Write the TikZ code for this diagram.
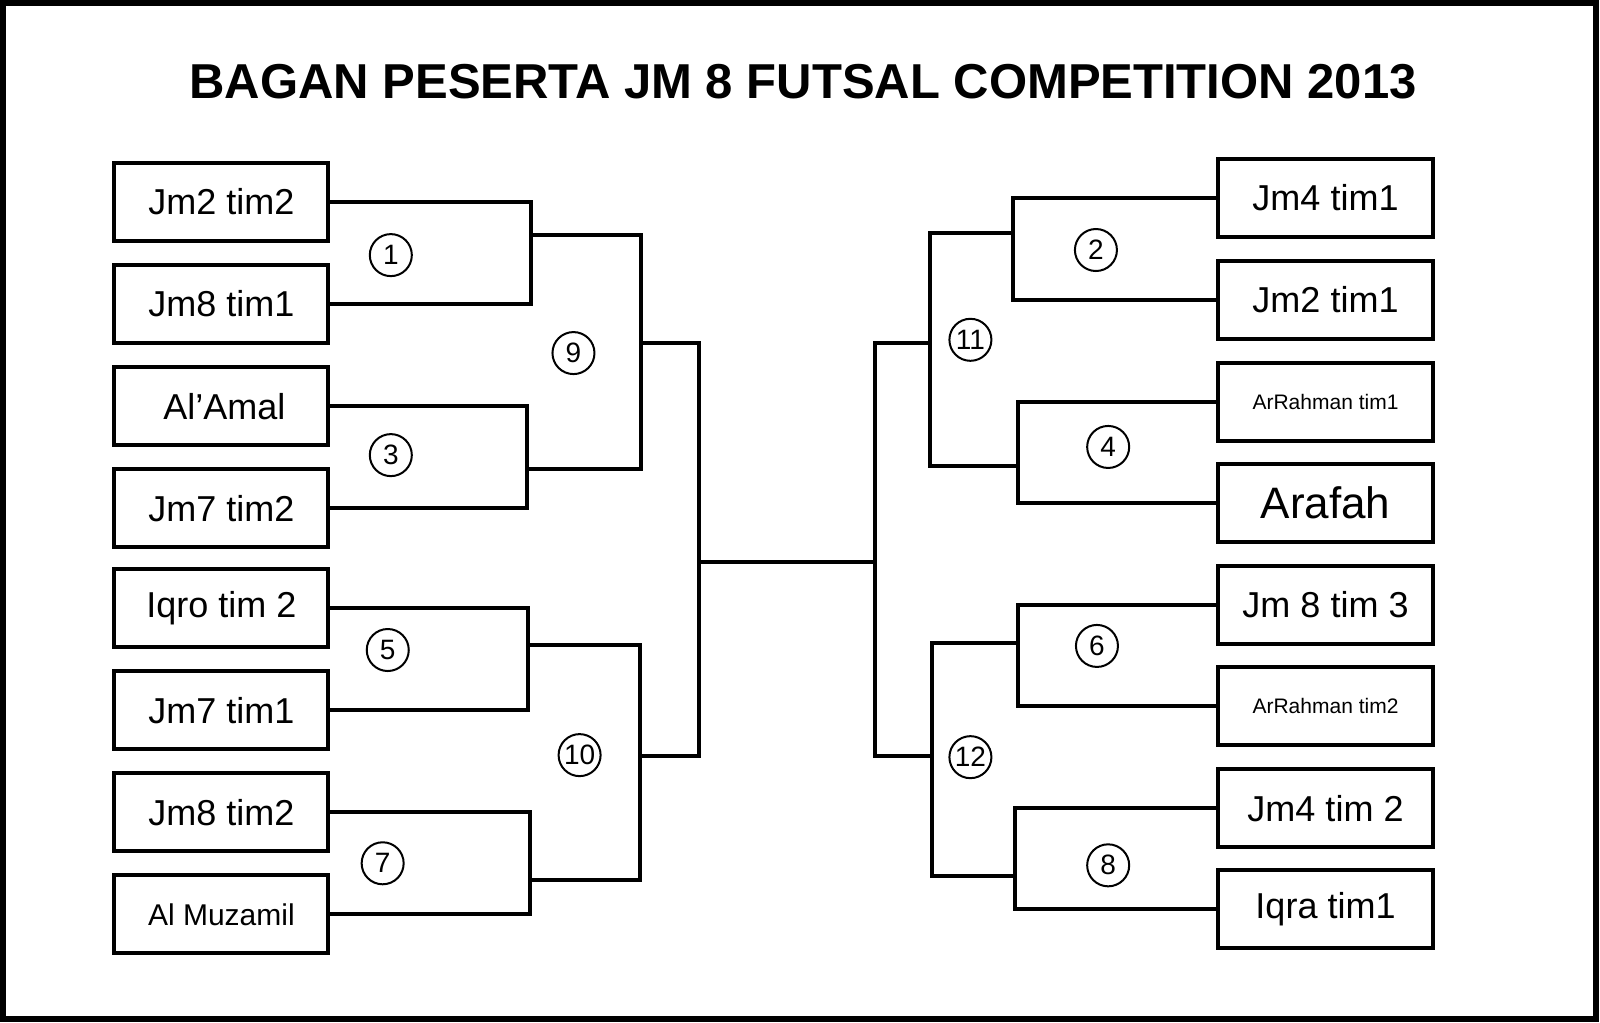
\documentclass[tikz,border=0pt]{standalone}
\usepackage{fontspec}
\setmainfont{Liberation Sans}
\begin{document}
\begin{tikzpicture}[x=0.51pt,y=-0.51pt,
  team/.style={draw,line width=2pt,minimum width=107pt,minimum height=39pt,inner sep=0pt,font=\fontsize{18}{20}\selectfont},
  num/.style={draw,circle,line width=1pt,minimum size=21pt,inner sep=0pt,font=\fontsize{14}{16}\selectfont},
  wire/.style={line width=2pt}]
\fill[white] (0,0) rectangle (1568,1002);
\draw[line width=3pt] (3,3) rectangle (1564,999);
\node[font=\fontsize{24.5}{26}\selectfont\bfseries] (title) at (787,80) {BAGAN PESERTA JM 8 FUTSAL COMPETITION 2013};
% left boxes
\node[team] (l1) at (217,198) {Jm2 tim2};
\node[team] (l2) at (217,298) {Jm8 tim1};
\node[team] (l3) at (217,398) {\,Al’Amal};
\node[team] (l4) at (217,498) {Jm7 tim2};
\node[team] (l5) at (217,596) {Iqro tim 2};
\node[team] (l6) at (217,696) {Jm7 tim1};
\node[team] (l7) at (217,796) {Jm8 tim2};
\node[team,font=\fontsize{15}{17}\selectfont] (l8) at (217,896) {Al Muzamil};
% right boxes
\node[team] (r1) at (1299,194) {Jm4 tim1};
\node[team] (r2) at (1299,294) {Jm2 tim1};
\node[team,font=\fontsize{10.5}{12}\selectfont] (r3) at (1299,394) {ArRahman tim1};
\node[team,font=\fontsize{22}{24}\selectfont] (r4) at (1299,493) {Arafah};
\node[team] (r5) at (1299,593) {Jm 8 tim 3};
\node[team,font=\fontsize{10.5}{12}\selectfont] (r6) at (1299,692) {ArRahman tim2};
\node[team] (r7) at (1299,792) {Jm4 tim 2};
\node[team] (r8) at (1299,891) {Iqra tim1};
% match points
\coordinate (m1) at (520,230); \coordinate (m3) at (516,460);
\coordinate (m5) at (517,632); \coordinate (m7) at (519,862);
\coordinate (m9) at (628,336); \coordinate (m10) at (627,741);
\coordinate (mL) at (685,551); \coordinate (mR) at (857,551);
\coordinate (m11) at (911,336); \coordinate (m12) at (913,741);
\coordinate (m2) at (993,228); \coordinate (m4) at (998,457);
\coordinate (m6) at (998,630); \coordinate (m8) at (995,858);
\draw[wire] (l1.east) -| (m1) |- (l2.east);
\draw[wire] (l3.east) -| (m3) |- (l4.east);
\draw[wire] (l5.east) -| (m5) |- (l6.east);
\draw[wire] (l7.east) -| (m7) |- (l8.east);
\draw[wire] (m1) -| (m9) |- (m3);
\draw[wire] (m5) -| (m10) |- (m7);
\draw[wire] (m9) -| (mL) |- (m10);
\draw[wire] (mL) -- (mR);
\draw[wire] (m11) -| (mR) |- (m12);
\draw[wire] (m2) -| (m11) |- (m4);
\draw[wire] (m6) -| (m12) |- (m8);
\draw[wire] (r1.west) -| (m2) |- (r2.west);
\draw[wire] (r3.west) -| (m4) |- (r4.west);
\draw[wire] (r5.west) -| (m6) |- (r6.west);
\draw[wire] (r7.west) -| (m8) |- (r8.west);
% numbers
\node[num] (n1) at (383,250) {1};
\node[num] (n3) at (383,446) {3};
\node[num] (n5) at (380,637) {5};
\node[num] (n7) at (375,846) {7};
\node[num] (n9) at (562,346) {9};
\node[num] (n10) at (568,740) {10};
\node[num] (n2) at (1074,245) {2};
\node[num] (n4) at (1086,438) {4};
\node[num] (n6) at (1075,633) {6};
\node[num] (n8) at (1086,848) {8};
\node[num] (n11) at (951,333) {11};
\node[num] (n12) at (951,742) {12};
\end{tikzpicture}
\end{document}
